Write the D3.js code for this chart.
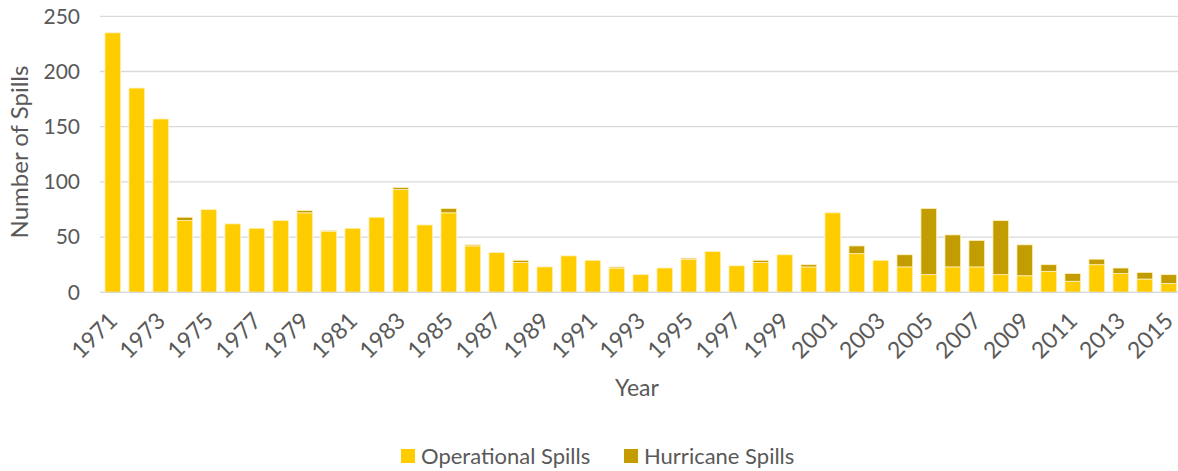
<!DOCTYPE html>
<html>
<head>
<meta charset="utf-8">
<script src="https://cdn.jsdelivr.net/npm/d3@7"></script>
<style>
  body { margin: 0; background: #fff; }
  svg text { font-family: Lato, "Open Sans", sans-serif; fill: #595959; }
</style>
</head>
<body>
<svg id="canvas" width="1178" height="471"></svg>
<script>
var years = d3.range(1971, 2016).map(String);
var operational = [235, 185, 157, 65, 75, 62, 58, 65, 72, 55,
  58, 68, 93, 61, 72, 42, 36, 27, 23, 33,
  29, 22, 16, 22, 30, 37, 24, 27, 34, 23,
  72, 35, 29, 23, 16, 23, 23, 16, 15, 19,
  10, 25, 17, 12, 8];
var hurricane = [0, 0, 0, 3, 0, 0, 0, 0, 2, 1,
  0, 0, 2, 0, 4, 1, 0, 2, 0, 0,
  0, 1, 0, 0, 1, 0, 0, 2, 0, 2,
  0, 7, 0, 11, 60, 29, 24, 49, 28, 6,
  7, 5, 5, 6, 8];
var yTicks = [0, 50, 100, 150, 200, 250];
var seriesNames = ['Operational Spills', 'Hurricane Spills'];
var colors = ['#FFCC00', '#C29C00'];

var svg = d3.select('#canvas');

var x = d3.scaleBand()
  .domain(years)
  .range([100.8, 1180.8])
  .paddingInner(0.345)
  .paddingOuter(0.1725);

var y = d3.scaleLinear()
  .domain([0, 250])
  .range([292.3, 16.3]);

// gridlines
svg.append('g')
  .selectAll('line')
  .data(yTicks)
  .enter()
  .append('line')
  .attr('x1', 100)
  .attr('x2', 1178)
  .attr('y1', d => y(d))
  .attr('y2', d => y(d))
  .style('stroke', '#d9d9d9')
  .style('stroke-width', 1.3);

// y axis labels
var yAxis = svg.append('g')
  .attr('transform', 'translate(86,0)')
  .call(d3.axisLeft(y).tickValues(yTicks).tickSize(0).tickPadding(6));
yAxis.select('.domain').remove();
yAxis.selectAll('text')
  .style('font-family', 'Lato, sans-serif')
  .style('font-size', '21px')
  .style('fill', '#595959');

// stacked bars
var rows = years.map((yr, i) => ({year: yr, op: operational[i], hur: hurricane[i]}));
var stack = d3.stack().keys(['op', 'hur'])(rows);

svg.append('g')
  .selectAll('g')
  .data(stack)
  .enter()
  .append('g')
  .style('fill', (d, i) => colors[i])
  .selectAll('rect')
  .data(d => d.filter(s => s[1] > s[0]))
  .enter()
  .append('rect')
  .attr('x', d => x(d.data.year))
  .attr('y', d => y(d[1]))
  .attr('width', x.bandwidth())
  .attr('height', d => y(d[0]) - y(d[1]))
  .style('stroke', '#fff3bf')
  .style('stroke-width', 0.8);

// baseline
svg.append('line')
  .attr('x1', 100)
  .attr('x2', 1178)
  .attr('y1', y(0))
  .attr('y2', y(0))
  .style('stroke', '#d9d9d9')
  .style('stroke-width', 1.3);

// x axis labels, every other year
var xAxis = svg.append('g')
  .attr('transform', 'translate(0,' + y(0) + ')')
  .call(d3.axisBottom(x).tickValues(years.filter((d, i) => i % 2 === 0)).tickSize(0));
xAxis.select('.domain').remove();
xAxis.selectAll('text')
  .style('font-family', 'Lato, sans-serif')
  .style('font-size', '23px')
  .style('fill', '#595959')
  .style('text-anchor', 'end')
  .attr('dy', null)
  .attr('y', 0)
  .attr('transform', 'translate(6,30) rotate(-45)');

// axis titles
svg.append('text')
  .attr('transform', 'translate(28,152) rotate(-90)')
  .attr('text-anchor', 'middle')
  .style('font-size', '24px')
  .text('Number of Spills');

svg.append('text')
  .attr('x', 637)
  .attr('y', 396)
  .attr('text-anchor', 'middle')
  .style('font-size', '23px')
  .text('Year');

// legend
var legendX = [401, 624];
var legend = svg.append('g')
  .selectAll('g')
  .data(seriesNames)
  .enter()
  .append('g')
  .attr('transform', (d, i) => 'translate(' + legendX[i] + ',449)');
legend.append('rect')
  .attr('width', 14)
  .attr('height', 14)
  .style('fill', (d, i) => colors[i]);
legend.append('text')
  .attr('x', 20)
  .attr('y', 15)
  .style('font-size', '22px')
  .text(d => d);
</script>
</body>
</html>
